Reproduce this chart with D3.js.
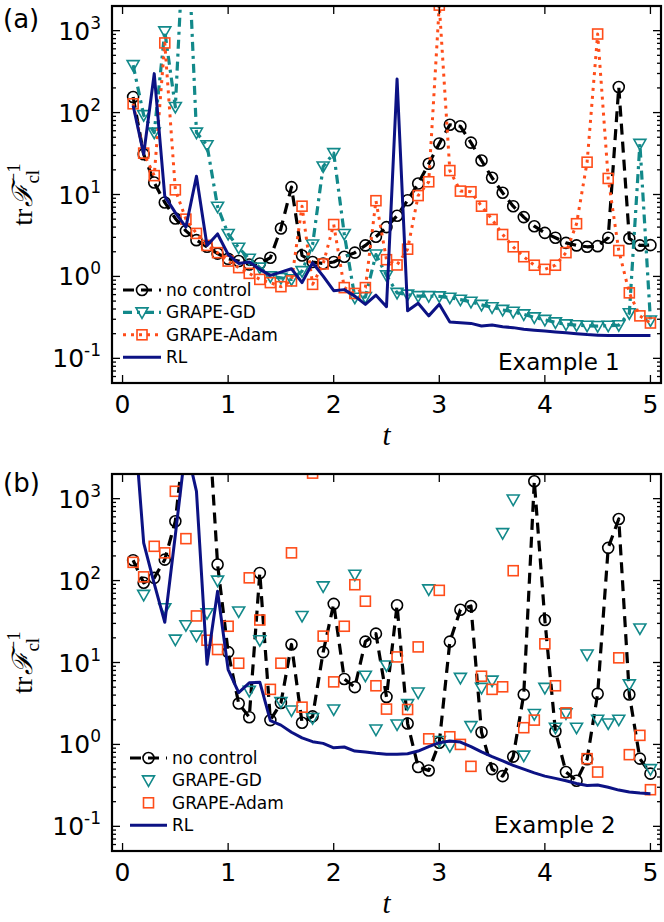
<!DOCTYPE html>
<html>
<head>
<meta charset="utf-8">
<script src="https://cdn.jsdelivr.net/npm/d3@7"></script>
<style>
  body { margin: 0; background: #fff; }
  svg text { font-family: "DejaVu Sans", sans-serif; }
</style>
</head>
<body>
<svg id="chart" width="664" height="922"></svg>
<script>
// time grid shared by every series
const tGrid = [0.1, 0.2, 0.3, 0.4, 0.5, 0.6, 0.7, 0.8, 0.9, 1.0,
  1.1, 1.2, 1.3, 1.4, 1.5, 1.6, 1.7, 1.8, 1.9, 2.0,
  2.1, 2.2, 2.3, 2.4, 2.5, 2.6, 2.7, 2.8, 2.9, 3.0,
  3.1, 3.2, 3.3, 3.4, 3.5, 3.6, 3.7, 3.8, 3.9, 4.0,
  4.1, 4.2, 4.3, 4.4, 4.5, 4.6, 4.7, 4.8, 4.9, 5.0];

// panel (a) - Example 1
const aNoControl = [155, 31, 14, 8, 5.1, 3.6, 2.77, 2.3, 1.9, 1.64,
  1.54, 1.4, 1.44, 1.69, 3.85, 12.3, 1.8, 1.5, 1.44, 1.5,
  1.74, 1.95, 2.39, 3.05, 4.0, 5.5, 8.5, 13.6, 23.7, 42,
  71, 68, 43, 26, 16, 10.5, 7.2, 5.3, 4.1, 3.4,
  2.97, 2.57, 2.39, 2.3, 2.34, 2.97, 205, 2.9, 2.39, 2.41];
const aGrapeGD = [380, 93, 57, 980, 117, 50000, 57, 40, 7.1, 3.3,
  2.24, 1.64, 1.28, 1.0, 0.96, 0.92, 1.16, 2.45, 22, 32,
  3.3, 0.55, 0.56, 1.85, 1.03, 0.63, 0.6, 0.575, 0.575, 0.57,
  0.55, 0.52, 0.49, 0.45, 0.42, 0.39, 0.37, 0.344, 0.316, 0.295,
  0.275, 0.26, 0.254, 0.25, 0.248, 0.25, 0.254, 0.355, 41.5, 0.29];
const aGrapeAdam = [128, 32, 17, 708, 11.4, 5.0, 3.35, 2.39, 1.95, 1.54,
  1.28, 1.09, 0.92, 0.84, 0.75, 0.88, 7.2, 0.8, 1.42, 4.3,
  0.73, 0.62, 0.73, 8.4, 1.6, 1.38, 2.15, 9.7, 14.3, 2050,
  19.6, 11, 10.8, 7.2, 4.96, 3.25, 2.3, 1.74, 1.37, 1.22,
  1.37, 1.95, 4.4, 24.8, 910, 15.7, 2.07, 0.63, 0.33, 0.27];
const aRL = [122, 31, 299, 9.5, 6.0, 4.0, 16.7, 2.39, 3.3, 1.85,
  1.44, 1.5, 1.22, 1.03, 1.13, 1.24, 0.84, 1.47, 1.01, 0.67,
  0.69, 0.575, 0.456, 0.59, 0.427, 257, 0.38, 0.47, 0.33, 0.456,
  0.277, 0.272, 0.267, 0.248, 0.255, 0.243, 0.237, 0.226, 0.22, 0.215,
  0.21, 0.205, 0.2, 0.195, 0.192, 0.19, 0.19, 0.19, 0.19, 0.19];

// panel (b) - Example 2 (null = no marker visible inside the axes)
const bNoControl = [177, 94, 108, 180, 530, 8000, 20000, 20000, 157, 13.4,
  3.16, 2.15, 124, 1.98, 3.2, 16.6, 1.84, 2.2, 13.4, 52,
  6.3, 5.0, 18, 22.5, 3.8, 50, 1.8, 0.53, 0.48, 1.05,
  18, 44, 49, 1.41, 0.5, 0.41, 0.71, 4.07, 1630, 33,
  1.45, 0.46, 0.36, 0.66, 4.15, 251, 565, 4.07, 0.67, 0.44];
const bGrapeGD = [null, 67, null, 46, 19, 28.5, 21.3, 40, 100, null,
  42, 4.5, 18.7, null, 3.3, 2.6, 37, 2.1, 85, 2.67,
  null, 118, 6.9, 1.52, 9.2, 1.75, 3.1, 4.3, 78, 1.1,
  0.95, 6.5, 1.67, 4.9, 6.0, 380, 975, 0.73, 2.35, 4.9,
  1.6, 2.39, 1.6, 12.5, 2.0, 1.8, 2.0, 5.4, 26, 0.5];
const bGrapeAdam = [167, 111, 262, 218, 1230, 325, 37, 18.7, 14.4, 27.7,
  9.8, 108, 33, 4.7, 9.8, 218, 2.85, 2050, 21, 5.8,
  27.7, 89, 56, 5.2, 2.7, 11.7, 2.67, 15.5, 1.17, 76,
  1.24, 1.0, 0.54, 6.8, 4.7, 5.05, 132, 1.6, 1.98, 16.9,
  5.2, 2.43, null, 0.67, 0.46, null, 11.4, 0.75, 1.29, 0.28];
const bRL = [13500, 288, 92, 31, 360, 4500, 1230, 9.5, 74, 8.2,
  4.3, 5.65, 5.75, 1.95, 1.72, 1.41, 1.2, 1.08, 1.03, 0.91,
  0.93, 0.83, 0.81, 0.78, 0.76, 0.76, 0.77, 0.83, 0.94, 1.05,
  1.1, 1.07, 0.94, 0.81, 0.71, 0.63, 0.555, 0.5, 0.45, 0.41,
  0.385, 0.36, 0.334, 0.316, 0.32, 0.3, 0.277, 0.262, 0.255, 0.25];

const seriesNames = ['no control', 'GRAPE-GD', 'GRAPE-Adam', 'RL'];
const xTickValues = [0, 1, 2, 3, 4, 5];
const yTickExponents = [-1, 0, 1, 2, 3];
const panelLetters = ['(a)', '(b)'];
const exampleLabels = ['Example 1', 'Example 2'];

const colors = {
  none: '#000000',
  gd: '#12898a',
  adam: '#ff4d1a',
  rl: '#0c1284',
};

const svg = d3.select('#chart');
const plotLeft = 112;
const plotWidth = 549;
const plotHeight = 377;

const x = d3.scaleLinear().domain([-0.1, 5.1]).range([0, plotWidth]);
const y = d3.scaleLog().domain([0.05, 2000]).range([plotHeight, 0]);

// marker shapes, all hollow
function addMarker(sel, kind, color) {
  if (kind === 'circle') {
    sel.append('circle').attr('r', 5.5)
      .attr('fill', 'none').attr('stroke', color).attr('stroke-width', 1.6);
  } else if (kind === 'triangle') {
    sel.append('path').attr('d', 'M-6,-4.5L6,-4.5L0,6Z')
      .attr('fill', 'none').attr('stroke', color).attr('stroke-width', 1.6);
  } else {
    sel.append('rect').attr('x', -5).attr('y', -5).attr('width', 10).attr('height', 10)
      .attr('fill', 'none').attr('stroke', color).attr('stroke-width', 1.6);
  }
}

function drawPanel(p) {
  const g = svg.append('g').attr('transform', `translate(${plotLeft},${p.top})`);

  g.append('clipPath').attr('id', `clip${p.idx}`)
    .append('rect').attr('width', plotWidth).attr('height', plotHeight);

  const plot = g.append('g').attr('clip-path', `url(#clip${p.idx})`);

  const line = d3.line()
    .defined((d) => d.v != null)
    .x((d) => x(d.t))
    .y((d) => y(d.v));

  p.series.forEach((s) => {
    const pts = tGrid.map((t, i) => ({ t: t, v: s.values[i] }));
    if (s.dash !== null) {
      plot.append('path')
        .attr('d', line(pts))
        .attr('fill', 'none')
        .attr('stroke', s.color)
        .attr('stroke-width', s.width)
        .attr('stroke-dasharray', s.dash)
        .attr('stroke-linejoin', 'round');
    }
    if (s.marker) {
      pts.filter((d) => d.v != null).forEach((d) => {
        const m = plot.append('g').attr('transform', `translate(${x(d.t)},${y(d.v)})`);
        addMarker(m, s.marker, s.color);
      });
    }
  });

  // ticks on all four sides
  const ax = g.append('g').attr('stroke', '#000').attr('stroke-width', 1.3);
  xTickValues.forEach((v) => {
    ax.append('line').attr('x1', x(v)).attr('x2', x(v)).attr('y1', plotHeight).attr('y2', plotHeight - 8);
    ax.append('line').attr('x1', x(v)).attr('x2', x(v)).attr('y1', 0).attr('y2', 8);
  });
  for (let k = -2; k <= 3; k++) {
    for (let m = 1; m <= 9; m++) {
      const v = m * Math.pow(10, k);
      if (v <= 0.05 || v >= 2000) continue;
      const len = m === 1 ? 8 : 4;
      ax.append('line').attr('x1', 0).attr('x2', len).attr('y1', y(v)).attr('y2', y(v));
      ax.append('line').attr('x1', plotWidth).attr('x2', plotWidth - len).attr('y1', y(v)).attr('y2', y(v));
    }
  }

  // frame
  g.append('rect').attr('width', plotWidth).attr('height', plotHeight)
    .attr('fill', 'none').attr('stroke', '#000').attr('stroke-width', 2.2);

  // tick labels
  xTickValues.forEach((v) => {
    g.append('text').attr('x', x(v)).attr('y', plotHeight + 30)
      .attr('text-anchor', 'middle').attr('font-size', 25).text(v);
  });
  yTickExponents.forEach((e) => {
    const t = g.append('text').attr('x', -11).attr('y', y(Math.pow(10, e)) + 9)
      .attr('text-anchor', 'end').attr('font-size', 25);
    t.append('tspan').text('10');
    t.append('tspan').attr('font-size', 17).attr('dy', -11).text(e < 0 ? '-' + Math.abs(e) : e);
  });

  // axis labels
  g.append('text').attr('x', plotWidth / 2).attr('y', plotHeight + 62)
    .attr('text-anchor', 'middle').attr('font-size', 29)
    .attr('font-style', 'italic').style('font-family', '"Liberation Serif", "DejaVu Serif", serif')
    .text('t');

  const yl = g.append('g').attr('transform', `translate(${32 - plotLeft},${plotHeight / 2}) rotate(-90)`);
  const yt = yl.append('text').attr('font-size', 28)
    .style('font-family', '"Liberation Serif", "DejaVu Serif", serif');
  yt.append('tspan').text('tr');
  yt.append('tspan').attr('font-style', 'italic').attr('dx', 2).text('\u2131');
  const sub = yt.append('tspan').attr('font-size', 19).attr('dy', 7).text('cl');
  const subLen = sub.node().getComputedTextLength();
  yt.append('tspan').attr('font-size', 19).attr('dx', -subLen).attr('dy', -19).text('\u22121');
  const bb = yt.node().getBBox();
  yt.attr('x', -bb.width / 2);

  // panel letter and example label
  svg.append('text').attr('x', 3).attr('y', p.top + (p.idx === 0 ? 22 : 18))
    .attr('font-size', 26).text(p.letter);
  g.append('text').attr('x', p.exampleX - plotLeft).attr('y', plotHeight - p.exampleDy)
    .attr('font-size', 23).text(p.example);

  // legend (no frame)
  const lg = g.append('g').attr('transform', `translate(${p.legendX - plotLeft},284)`);
  p.series.forEach((s, i) => {
    const row = lg.append('g').attr('transform', `translate(0,${i * 22.4})`);
    if (s.dash !== null) {
      row.append('line').attr('x1', 0).attr('x2', p.handleLen).attr('y1', 0).attr('y2', 0)
        .attr('stroke', s.color).attr('stroke-width', s.width)
        .attr('stroke-dasharray', s.dash);
    }
    if (s.marker) {
      const m = row.append('g').attr('transform', `translate(${p.handleLen / 2},0)`);
      addMarker(m, s.marker, s.color);
    }
    row.append('text').attr('x', p.handleLen + 5).attr('y', 6)
      .attr('font-size', 17).text(seriesNames[i]);
  });
}

drawPanel({
  idx: 0, top: 6, letter: panelLetters[0], example: exampleLabels[0],
  exampleX: 498, exampleDy: 13, legendX: 123, handleLen: 38,
  series: [
    { values: aNoControl, color: colors.none, width: 3.2, dash: '11,7', marker: 'circle' },
    { values: aGrapeGD, color: colors.gd, width: 3.2, dash: '9,5,3,5', marker: 'triangle' },
    { values: aGrapeAdam, color: colors.adam, width: 3, dash: '3,5', marker: 'square' },
    { values: aRL, color: colors.rl, width: 3, dash: 'none', marker: null },
  ],
});

drawPanel({
  idx: 1, top: 474, letter: panelLetters[1], example: exampleLabels[1],
  exampleX: 494, exampleDy: 18, legendX: 130, handleLen: 37,
  series: [
    { values: bNoControl, color: colors.none, width: 3.2, dash: '11,7', marker: 'circle' },
    { values: bGrapeGD, color: colors.gd, width: 0, dash: null, marker: 'triangle' },
    { values: bGrapeAdam, color: colors.adam, width: 0, dash: null, marker: 'square' },
    { values: bRL, color: colors.rl, width: 3, dash: 'none', marker: null },
  ],
});
</script>
</body>
</html>
